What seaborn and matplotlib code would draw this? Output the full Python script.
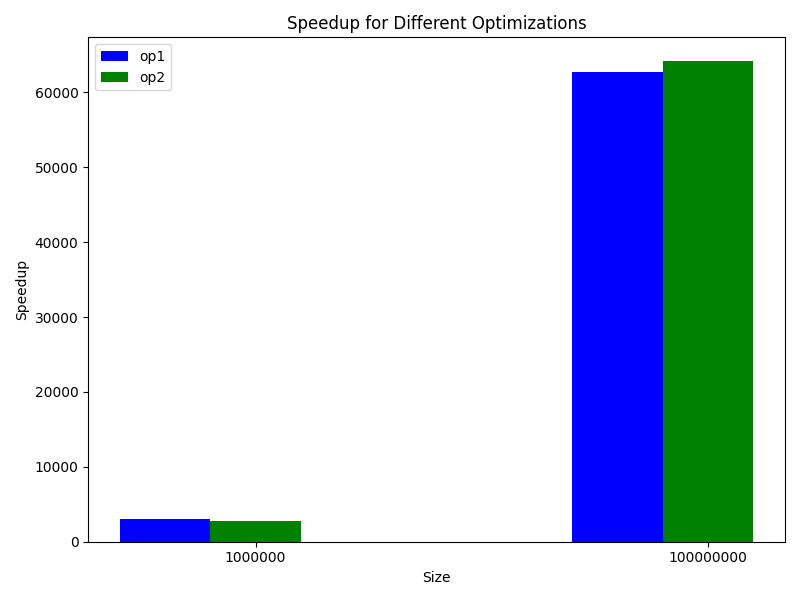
import numpy as np
import matplotlib
matplotlib.use("Agg")
import matplotlib.pyplot as plt
import seaborn as sns

sizes = ["1000000", "100000000"]
op1 = [3070, 62700]
op2 = [2800, 64150]

sns.reset_orig()
fig, ax = plt.subplots(figsize=(8, 6), dpi=100)
x = np.arange(len(sizes))
w = 0.2
ax.bar(x - w, op1, w, color="blue", label="op1")
ax.bar(x, op2, w, color="green", label="op2")
ax.set_xticks(x)
ax.set_xticklabels(sizes)
ax.set_xlabel("Size")
ax.set_ylabel("Speedup")
ax.set_title("Speedup for Different Optimizations")
ax.legend(loc="upper left")
plt.tight_layout()
plt.savefig("out.png")
